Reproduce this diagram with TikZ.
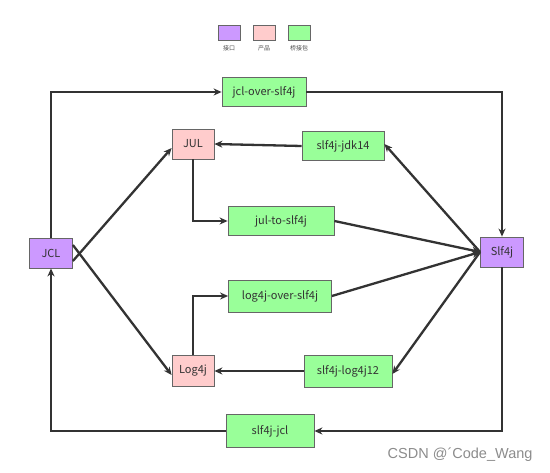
\documentclass[tikz,border=0pt]{standalone}
\usepackage{fontspec}
\setmainfont{Noto Sans CJK SC}
\newfontfamily\wmfont{Liberation Sans}
\usetikzlibrary{arrows.meta}
\definecolor{ipurple}{HTML}{CC99FF}
\definecolor{ppink}{HTML}{FFCCCC}
\definecolor{bgreen}{HTML}{99FF99}
\definecolor{edgec}{HTML}{333333}
\definecolor{bordc}{HTML}{666666}
\tikzset{
  box/.style={draw=bordc, line width=0.8pt, inner sep=0pt, font=\fontsize{11}{13}\selectfont, text=black!80},
  iface/.style={box, fill=ipurple},
  prod/.style={box, fill=ppink},
  bridge/.style={box, fill=bgreen},
  conn/.style={draw=edgec, line width=2.3pt, -{Stealth[length=8pt,width=7pt]}},
  leg/.style={draw=bordc, line width=0.8pt, minimum width=22pt, minimum height=15pt, inner sep=0pt},
  legtxt/.style={font=\fontsize{6}{7}\selectfont, text=black!70}
}
\begin{document}
\begin{tikzpicture}[x=1pt,y=-1pt]
\useasboundingbox[fill=white] (0,0) rectangle (550,473);
% legend
\node[leg, fill=ipurple] (l1) at (229,33) {};
\node[leg, fill=ppink] (l2) at (264,33) {};
\node[leg, fill=bgreen] (l3) at (299,33) {};
\node[legtxt] (t1) at (229,48) {接口};
\node[legtxt] (t2) at (264,48) {产品};
\node[legtxt] (t3) at (299,48) {桥接包};
% nodes
\node[iface, minimum width=43pt, minimum height=30pt] (jcl) at (51,253) {JCL};
\node[iface, minimum width=43pt, minimum height=30pt] (slf) at (502,252) {Slf4j};
\node[prod, minimum width=42pt, minimum height=30pt] (jul) at (193,144) {JUL};
\node[prod, minimum width=42pt, minimum height=31pt] (log) at (193,371) {Log4j};
\node[bridge, minimum width=84pt, minimum height=29pt] (jos) at (264,92) {jcl-over-slf4j};
\node[bridge, minimum width=82pt, minimum height=29pt] (jdk) at (343,146) {slf4j-jdk14};
\node[bridge, minimum width=106pt, minimum height=29pt] (jts) at (281,221) {jul-to-slf4j};
\node[bridge, minimum width=103pt, minimum height=32pt] (los) at (280,296) {log4j-over-slf4j};
\node[bridge, minimum width=88pt, minimum height=32pt] (sl12) at (348,371) {slf4j-log4j12};
\node[bridge, minimum width=88pt, minimum height=33pt] (sjcl) at (270,431) {slf4j-jcl};
% connectors
\draw[conn] (jcl.north) |- (jos.west);
\draw[conn] (jos.east) -| (slf.north);
\draw[conn] (slf.south) |- (sjcl.east);
\draw[conn] (sjcl.west) -| (jcl.south);
\draw[conn] ([yshift=-8pt]jcl.east) -- ([yshift=-4pt]jul.west);
\draw[conn] ([yshift=8pt]jcl.east) -- ([yshift=-4pt]log.west);
\draw[conn] (jdk.west) -- (jul.east);
\draw[conn] (jul.south) |- (jts.west);
\draw[conn] (jts.east) -- (slf.west);
\draw[conn] (los.east) -- (slf.west);
\draw[conn] (slf.west) -- ([yshift=2pt]jdk.east);
\draw[conn] (slf.west) -- ([yshift=-3pt]sl12.east);
\draw[conn] (sl12.west) -- (log.east);
\draw[conn] (log.north) |- (los.west);
% watermark
\node[font=\wmfont\fontsize{14.5}{16}\selectfont, text=black!45, anchor=east] (wm) at (536,455) {CSDN @´Code\_Wang};
\end{tikzpicture}
\end{document}
